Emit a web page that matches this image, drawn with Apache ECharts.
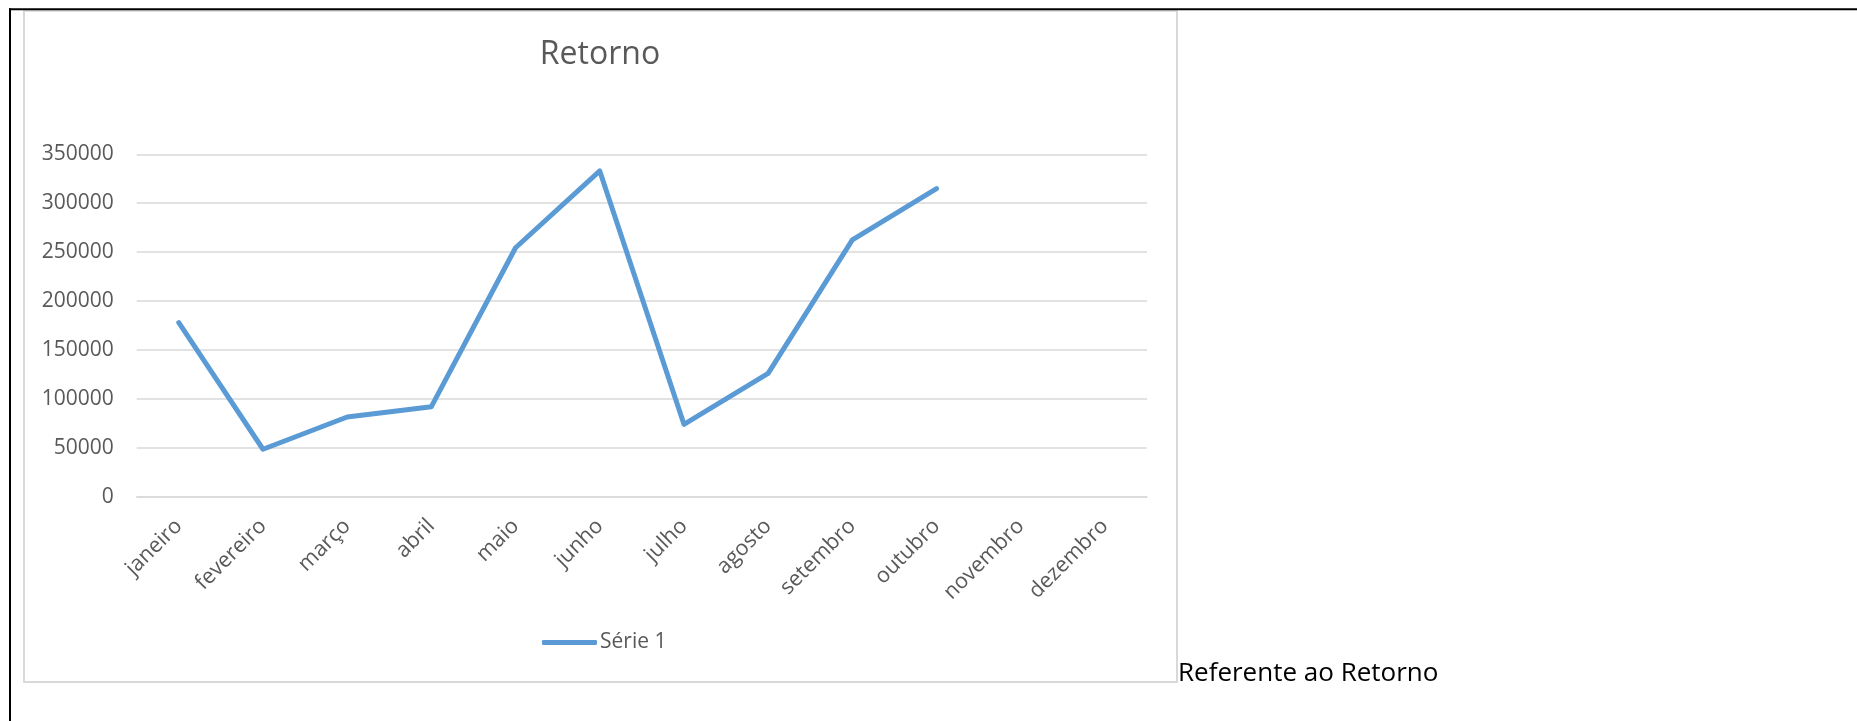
<!DOCTYPE html>
<html>
<head>
<meta charset="utf-8">
<script src="https://cdn.jsdelivr.net/npm/echarts@6/dist/echarts.min.js"></script>
<style>
  html, body { margin: 0; padding: 0; background: #ffffff; }
  #chart { width: 1857px; height: 721px; }
</style>
</head>
<body>
<div id="chart"></div>
<script>
// ---- data ----
const chartTitle = 'Retorno';
const sideText = 'Referente ao Retorno';
const categories = ['janeiro', 'fevereiro', 'março', 'abril', 'maio', 'junho', 'julho', 'agosto', 'setembro', 'outubro', 'novembro', 'dezembro'];
const seriesName = 'Série 1';
const seriesValues = [178000, 48500, 81500, 92000, 254500, 333000, 74000, 126000, 262500, 315000, null, null];
const yTicks = [0, 50000, 100000, 150000, 200000, 250000, 300000, 350000];

const FONT = '"Open Sans", "Noto Sans", sans-serif';
const LABEL = '#595959';
const GRID = '#d9d9d9';
const LINE = '#5B9BD5';

const chart = echarts.init(document.getElementById('chart'), null, { renderer: 'canvas' });
chart.setOption({
  backgroundColor: '#ffffff',
  animation: false,
  title: {
    text: chartTitle,
    left: 600,
    top: 39,
    textAlign: 'center',
    padding: 0,
    textStyle: { fontFamily: FONT, fontSize: 32, fontWeight: 'normal', color: LABEL }
  },
  legend: {
    data: [seriesName],
    left: 542,
    top: 632,
    padding: 0,
    icon: 'roundRect',
    itemWidth: 55,
    itemHeight: 5,
    itemGap: 10,
    textStyle: { fontFamily: FONT, fontSize: 21, color: LABEL, padding: [0, 0, 0, -2] }
  },
  grid: {
    left: 136.7,
    top: 154.3,
    width: 1010.3,
    height: 342.4,
    outerBoundsMode: 'none',
    containLabel: false
  },
  xAxis: {
    type: 'category',
    data: categories,
    boundaryGap: true,
    axisLine: { show: true, lineStyle: { color: GRID, width: 1.5 } },
    axisTick: { show: false },
    axisLabel: {
      rotate: 45,
      margin: 26,
      interval: 0,
      fontFamily: FONT,
      fontSize: 21.5,
      color: LABEL
    },
    splitLine: { show: false }
  },
  yAxis: {
    type: 'value',
    min: yTicks[0],
    max: yTicks[yTicks.length - 1],
    interval: yTicks[1] - yTicks[0],
    axisLine: { show: false },
    axisTick: { show: false },
    axisLabel: { margin: 23, fontFamily: FONT, fontSize: 21, color: LABEL, formatter: function (v) { return String(v); } },
    splitLine: { show: true, lineStyle: { color: GRID, width: 1.5 } }
  },
  series: [{
    name: seriesName,
    type: 'line',
    data: seriesValues,
    showSymbol: false,
    symbol: 'none',
    color: LINE,
    lineStyle: { color: LINE, width: 5, cap: 'round', join: 'round' },
    connectNulls: false
  }],
  graphic: [
    { type: 'line', silent: true, z: 100, shape: { x1: 9, y1: 9.2, x2: 1857, y2: 9.2 }, style: { stroke: '#000000', lineWidth: 2 } },
    { type: 'line', silent: true, z: 100, shape: { x1: 10, y1: 8.2, x2: 10, y2: 721 }, style: { stroke: '#000000', lineWidth: 2 } },
    { type: 'rect', silent: true, z: -1, shape: { x: 24, y: 10.8, width: 1153, height: 671.2 }, style: { fill: 'none', stroke: GRID, lineWidth: 2 } },
    { type: 'text', silent: true, z: 100, x: 1178, y: 674, style: { text: sideText, font: '26px "Open Sans", sans-serif', fill: '#000000', verticalAlign: 'middle', align: 'left' } }
  ]
});
</script>
</body>
</html>
